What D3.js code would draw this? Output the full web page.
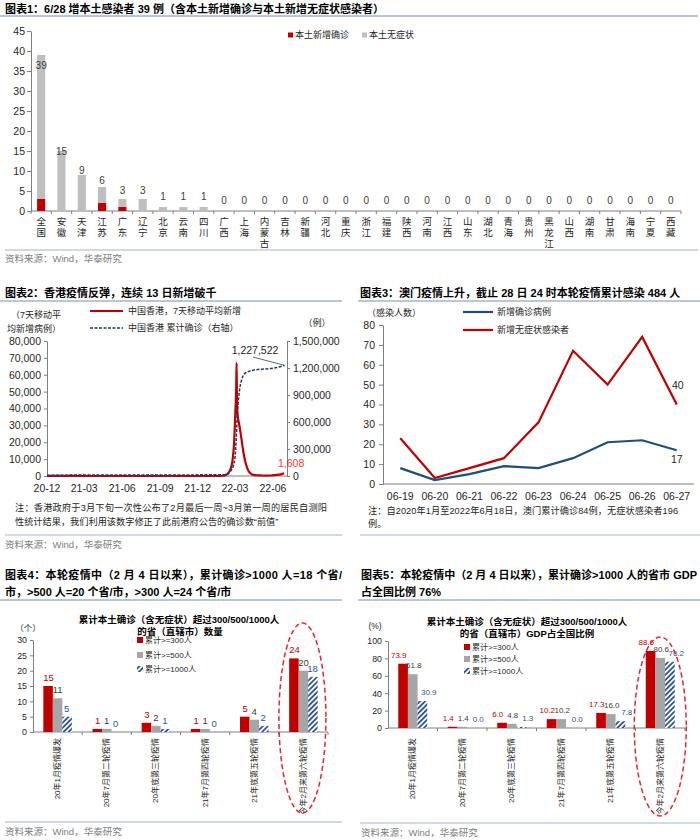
<!DOCTYPE html>
<html><head><meta charset="utf-8">
<script src="https://cdn.jsdelivr.net/npm/d3@7"></script>
<style>body{margin:0;background:#fff} svg{display:block}</style>
</head><body><svg id="c" width="700" height="840"></svg>
<script>
// ---------------- DATA ----------------
const provinces = ["全国","安徽","天津","江苏","广东","辽宁","北京","云南","四川","广西","上海","内蒙古","吉林","新疆","河北","重庆","浙江","福建","陕西","河南","江西","山东","湖北","青海","贵州","黑龙江","山西","湖南","甘肃","海南","宁夏","西藏"];
const confirmed    = [3,0,0,2,1,0,0,0,0,0,0,0,0,0,0,0,0,0,0,0,0,0,0,0,0,0,0,0,0,0,0,0];
const asymptomatic = [36,15,9,4,2,3,1,1,1,0,0,0,0,0,0,0,0,0,0,0,0,0,0,0,0,0,0,0,0,0,0,0];
const yTicks1 = [0,5,10,15,20,25,30,35,40,45];

const hkMADates = ["2020-12-01","2020-12-15","2021-01-01","2021-01-20","2021-02-15","2021-03-15","2021-05-01","2021-07-01","2021-09-01","2021-11-01","2021-12-31","2022-01-15","2022-01-31","2022-02-06","2022-02-12","2022-02-18","2022-02-23","2022-02-27","2022-03-02","2022-03-04","2022-03-05","2022-03-06","2022-03-08","2022-03-11","2022-03-15","2022-03-19","2022-03-23","2022-03-27","2022-03-31","2022-04-04","2022-04-09","2022-04-15","2022-04-25","2022-05-05","2022-05-15","2022-05-25","2022-06-05","2022-06-15","2022-06-22","2022-06-28"];
const hkMA = [90,100,70,60,25,12,3,2,2,1,5,20,150,500,1500,4000,9000,20000,38000,52000,67000,42000,35000,31000,25000,18000,12000,7500,4500,2500,1300,700,400,300,250,300,500,800,1100,1608];
const hkCumDates = ["2020-12-01","2021-03-01","2021-06-01","2021-12-31","2022-01-31","2022-02-10","2022-02-18","2022-02-24","2022-03-01","2022-03-04","2022-03-07","2022-03-12","2022-03-18","2022-03-25","2022-04-05","2022-04-20","2022-05-15","2022-06-10","2022-06-28"];
const hkCum = [6500,11000,11900,12700,14000,20000,50000,100000,200000,400000,700000,950000,1080000,1140000,1165000,1180000,1190000,1205000,1227522];
const hkLeftTicks = [0,10000,20000,30000,40000,50000,60000,70000,80000];
const hkRightTicks = [0,300000,600000,900000,1200000,1500000];
const hkXTickDates = ["2020-12-01","2021-03-01","2021-06-01","2021-09-01","2021-12-01","2022-03-01","2022-06-01"];
const hkXTickLabels = ["20-12","21-03","21-06","21-09","21-12","22-03","22-06"];

const mDays = ["06-19","06-20","06-21","06-22","06-23","06-24","06-25","06-26","06-27"];
const mConfirmed = [8,2,5,9,8,13,21,22,17];
const mAsym = [23,3,8,13,31,67,50,74,40];
const yTicks3 = [0,10,20,30,40,50,60,70,80];

const waves = ["20年1月疫情爆发","20年7月第二轮疫情","20年底第三轮疫情","21年7月第四轮疫情","21年底第五轮疫情","今年2月来第六轮疫情"];
const seriesNames = ["累计>=300人","累计>=500人","累计>=1000人"];
const cnt300 = [15,1,3,1,5,24];
const cnt500 = [11,1,2,1,4,20];
const cnt1000 = [5,0,1,0,2,18];
const yTicks4 = [0,5,10,15,20,25,30];
const gdp300 = [73.9,1.4,6.0,10.2,17.3,88.6];
const gdp500 = [61.8,1.4,4.8,10.2,16.0,80.6];
const gdp1000 = [30.9,0.0,1.3,0.0,7.8,76.2];
const yTicks5 = [0,20,40,60,80,100];

// ---------------- HELPERS ----------------
const FONT = '"Liberation Sans","Noto Sans CJK SC",sans-serif';
const RED = "#C00000", NAVY = "#1F4E79", GRAY1 = "#BFBFBF", GRAY2 = "#A6A6A6", HATCH = "#2F5597";
const RULE = "#A3B5C8";
const svg = d3.select("#c").attr("font-family", FONT);
svg.append("rect").attr("width",700).attr("height",840).attr("fill","#fff");

const defs = svg.append("defs");
const pat = defs.append("pattern").attr("id","hatch").attr("patternUnits","userSpaceOnUse")
  .attr("width",3.6).attr("height",3.6).attr("patternTransform","rotate(45)");
pat.append("rect").attr("width",3.6).attr("height",3.6).attr("fill","#fff");
pat.append("rect").attr("width",1.8).attr("height",3.6).attr("fill",HATCH);

function txt(x, y, s, o={}) {
  const t = svg.append("text").attr("x",x).attr("y",y).text(s)
    .attr("font-size", o.size||10).attr("fill", o.fill||"#262626")
    .attr("text-anchor", o.anchor||"start").attr("dominant-baseline","central");
  if (o.bold) t.attr("font-weight","bold");
  if (o.len) t.attr("textLength",o.len).attr("lengthAdjust","spacing");
  return t;
}
function hline(x1,x2,y,color=RULE,w=1.5){
  svg.append("line").attr("x1",x1).attr("x2",x2).attr("y1",y).attr("y2",y).attr("stroke",color).attr("stroke-width",w);
}
function styleAxis(g, size){
  g.attr("font-family",FONT).attr("font-size",size);
  g.selectAll("path.domain").attr("stroke","#7F7F7F");
  g.selectAll(".tick line").attr("stroke","#7F7F7F");
  g.selectAll(".tick text").attr("fill","#262626");
}
const src = "资料来源：Wind，华泰研究";

// ---------------- CHART 1 ----------------
txt(5, 9, "图表1：6/28 增本土感染者 39 例（含本土新增确诊与本土新增无症状感染者）", {size:11, bold:true, fill:"#000"});
hline(0, 698, 16);
const x1 = d3.scaleBand().domain(provinces).range([31,681]).paddingInner(0.6).paddingOuter(0.3);
const y1 = d3.scaleLinear().domain([0,45]).range([211,31]);
styleAxis(svg.append("g").attr("transform","translate(31,0)")
  .call(d3.axisLeft(y1).tickValues(yTicks1).tickSize(4).tickPadding(2).tickSizeOuter(0)), 10.5);
svg.append("line").attr("x1",31).attr("x2",681).attr("y1",y1(0)).attr("y2",y1(0)).attr("stroke","#7F7F7F");
const gap1 = (x1.step()-x1.bandwidth())/2;
provinces.forEach((p,i)=>{
  const bx = x1(p)-gap1;
  svg.append("line").attr("x1",bx).attr("x2",bx).attr("y1",y1(0)).attr("y2",y1(0)+3).attr("stroke","#7F7F7F");
});
svg.append("line").attr("x1",681).attr("x2",681).attr("y1",y1(0)).attr("y2",y1(0)+3).attr("stroke","#7F7F7F");
provinces.forEach((p,i)=>{
  const cx = x1(p)+x1.bandwidth()/2;
  const c = confirmed[i], a = asymptomatic[i], t = c+a;
  if (c>0) svg.append("rect").attr("x",x1(p)).attr("width",x1.bandwidth()).attr("y",y1(c)).attr("height",y1(0)-y1(c)).attr("fill",RED);
  if (a>0) svg.append("rect").attr("x",x1(p)).attr("width",x1.bandwidth()).attr("y",y1(t)).attr("height",y1(c)-y1(t)).attr("fill",GRAY1);
  const ly = t>=30 ? y1(t)+10 : y1(t) - Math.max(0, 11 - t*0.75);
  txt(cx, ly, String(t), {size:10, anchor:"middle", fill:"#404040"});
  [...p].forEach((ch,k)=> txt(cx, 221 + k*11, ch, {size:9.5, anchor:"middle", fill:"#262626"}));
});
svg.append("rect").attr("x",288).attr("y",32.5).attr("width",5).attr("height",5).attr("fill",RED);
txt(295, 35, "本土新增确诊", {size:9});
svg.append("rect").attr("x",362).attr("y",32.5).attr("width",5).attr("height",5).attr("fill",GRAY1);
txt(369, 35, "本土无症状", {size:9});
hline(5, 698, 250, RULE, 1);
txt(5, 258, src, {size:9.5, fill:"#808080"});

// ---------------- CHART 2 ----------------
txt(5, 293, "图表2：香港疫情反弹，连续 13 日新增破千", {size:11, bold:true, fill:"#000"});
hline(0, 342, 301);
const parse = d3.timeParse("%Y-%m-%d");
const x2 = d3.scaleTime().domain([parse("2020-12-01"), parse("2022-07-05")]).range([47,287]);
const y2L = d3.scaleLinear().domain([0,80000]).range([476,341]);
const y2R = d3.scaleLinear().domain([0,1500000]).range([476,341]);
styleAxis(svg.append("g").attr("transform","translate(47,0)")
  .call(d3.axisLeft(y2L).tickValues(hkLeftTicks).tickSize(3).tickPadding(3).tickSizeOuter(0).tickFormat(d3.format(","))), 10.5);
styleAxis(svg.append("g").attr("transform","translate(287,0)")
  .call(d3.axisRight(y2R).tickValues(hkRightTicks).tickSize(3).tickPadding(3).tickSizeOuter(0).tickFormat(d3.format(","))), 10.5);
svg.append("line").attr("x1",47).attr("x2",287).attr("y1",476).attr("y2",476).attr("stroke","#7F7F7F");
hkXTickDates.forEach((d,i)=> txt(x2(parse(d)), 488, hkXTickLabels[i], {size:10.5, anchor:"middle"}));
const cumPts = hkCumDates.map((d,i)=>[x2(parse(d)), y2R(hkCum[i])]);
const maPts = hkMADates.map((d,i)=>[x2(parse(d)), y2L(hkMA[i])]);
svg.append("path").attr("d", d3.line().curve(d3.curveMonotoneX)(maPts)).attr("fill","none").attr("stroke",RED).attr("stroke-width",2.2);
svg.append("path").attr("d", d3.line().curve(d3.curveMonotoneX)(cumPts)).attr("fill","none").attr("stroke","#1F3864").attr("stroke-width",1.5).attr("stroke-dasharray","3,1.5");
const lastCum = cumPts[cumPts.length-1];
txt(255, 350, d3.format(",")(hkCum[hkCum.length-1]), {size:10.5, anchor:"middle"});
svg.append("line").attr("x1",253).attr("y1",357).attr("x2",lastCum[0]+1).attr("y2",lastCum[1]).attr("stroke","#404040").attr("stroke-width",0.8);
txt(278, 463, d3.format(",")(hkMA[hkMA.length-1]), {size:10.5, fill:"#FF3333"});
svg.append("line").attr("x1",90).attr("x2",123).attr("y1",311).attr("y2",311).attr("stroke",RED).attr("stroke-width",2.2);
txt(128, 311, "中国香港，7天移动平均新增", {size:9});
svg.append("line").attr("x1",90).attr("x2",123).attr("y1",328).attr("y2",328).attr("stroke","#1F3864").attr("stroke-width",1.5).attr("stroke-dasharray","3,1.5");
txt(128, 328, "中国香港 累计确诊（右轴）", {size:9});
txt(36, 315, "（7天移动平", {size:9, anchor:"middle"});
txt(34, 329, "均新增病例）", {size:9, anchor:"middle"});
txt(317, 323, "（例）", {size:9, anchor:"middle"});
txt(15, 508, "注：香港政府于3月下旬一次性公布了2月最后一周~3月第一周的居民自测阳", {size:9.2, len:312});
txt(15, 522, "性统计结果，我们利用该数字修正了此前港府公告的确诊数“前值”", {size:9.2});
hline(5, 342, 535, RULE, 1);
txt(5, 544, src, {size:9.5, fill:"#808080"});

// ---------------- CHART 3 ----------------
txt(360, 293, "图表3：澳门疫情上升，截止 28 日 24 时本轮疫情累计感染 484 人", {size:11, bold:true, fill:"#000"});
hline(358, 700, 301);
const x3 = d3.scalePoint().domain(mDays).range([383,694]).padding(0.5);
const y3 = d3.scaleLinear().domain([0,80]).range([484,325]);
styleAxis(svg.append("g").attr("transform","translate(383,0)")
  .call(d3.axisLeft(y3).tickValues(yTicks3).tickSize(4).tickPadding(4).tickSizeOuter(0)), 10.5);
svg.append("line").attr("x1",383).attr("x2",694).attr("y1",484).attr("y2",484).attr("stroke","#7F7F7F");
mDays.forEach(d=> txt(x3(d), 496, d, {size:10.5, anchor:"middle"}));
const l3 = arr => d3.line()(mDays.map((d,i)=>[x3(d), y3(arr[i])]));
svg.append("path").attr("d", l3(mConfirmed)).attr("fill","none").attr("stroke",NAVY).attr("stroke-width",2.2);
svg.append("path").attr("d", l3(mAsym)).attr("fill","none").attr("stroke",RED).attr("stroke-width",2.2);
const lastD = mDays[mDays.length-1];
txt(x3(lastD)+1, y3(mAsym[mAsym.length-1])-20, String(mAsym[mAsym.length-1]), {size:10.5, anchor:"middle"});
txt(x3(lastD), y3(mConfirmed[mConfirmed.length-1])+9, String(mConfirmed[mConfirmed.length-1]), {size:10.5, anchor:"middle"});
svg.append("line").attr("x1",463).attr("x2",493).attr("y1",312).attr("y2",312).attr("stroke",NAVY).attr("stroke-width",2.2);
txt(497, 312, "新增确诊病例", {size:9});
svg.append("line").attr("x1",463).attr("x2",493).attr("y1",330).attr("y2",330).attr("stroke",RED).attr("stroke-width",2.2);
txt(497, 330, "新增无症状感染者", {size:9});
txt(367, 313, "（感染人数）", {size:9});
txt(368, 511, "注：自2020年1月至2022年6月18日，澳门累计确诊84例，无症状感染者196", {size:9.2, len:310});
txt(368, 524, "例。", {size:9.2});
hline(360, 700, 535, RULE, 1);

// ---------------- GROUPED BAR HELPER ----------------
function grouped(cfg){
  const x = d3.scaleBand().domain(waves).range([cfg.x0,cfg.x1]);
  const y = d3.scaleLinear().domain(cfg.ydom).range([cfg.y0,cfg.yTop]);
  const sub = d3.scaleBand().domain([0,1,2]).range([0, cfg.gw]);
  styleAxis(svg.append("g").attr("transform",`translate(${cfg.x0},0)`)
    .call(d3.axisLeft(y).tickValues(cfg.ticks).tickSize(3).tickPadding(3).tickSizeOuter(0)), 8.8);
  svg.append("line").attr("x1",cfg.x0).attr("x2",cfg.x1).attr("y1",cfg.y0).attr("y2",cfg.y0).attr("stroke","#7F7F7F");
  waves.forEach(w=>{
    svg.append("line").attr("x1",x(w)+x.bandwidth()).attr("x2",x(w)+x.bandwidth()).attr("y1",cfg.y0).attr("y2",cfg.y0+3).attr("stroke","#7F7F7F");
  });
  const fills = [RED, GRAY2, "url(#hatch)"];
  const lcol = ["#C00000","#404040",HATCH];
  waves.forEach((w,i)=>{
    const gx = x(w) + (x.bandwidth()-cfg.gw)/2;
    cfg.series.forEach((s,k)=>{
      const v = s[i];
      const bx = gx + sub(k);
      if (v>0) svg.append("rect").attr("x",bx).attr("width",sub.bandwidth()).attr("y",y(v)).attr("height",cfg.y0-y(v)).attr("fill",fills[k]);
      txt(x(w)+x.bandwidth()/2 + cfg.lab[k], y(v)-8.5, cfg.fmt(v), {size:cfg.lsize, anchor:"middle", fill:lcol[k]});
    });
    svg.append("text").attr("transform",`translate(${x(w)+x.bandwidth()/2},${cfg.y0+cfg.xl}) rotate(-90)`)
      .attr("text-anchor","end").attr("dominant-baseline","central").attr("font-size",8).attr("fill","#262626").text(w);
  });
  cfg.leg.forEach((ly,k)=>{
    svg.append("rect").attr("x",cfg.legX).attr("y",ly-3).attr("width",6).attr("height",6).attr("fill",fills[k]);
    txt(cfg.legX+8, ly, seriesNames[k], {size:8});
  });
  const last = waves[waves.length-1];
  const cx = x(last)+x.bandwidth()/2 + cfg.ex;
  svg.append("ellipse").attr("cx",cx).attr("cy",cfg.ecy).attr("rx",cfg.erx).attr("ry",cfg.ery)
    .attr("fill","none").attr("stroke","#E8262A").attr("stroke-width",1.5).attr("stroke-dasharray","5,3");
}

// ---------------- CHART 4 ----------------
txt(5, 575, "图表4：本轮疫情中（2 月 4 日以来），累计确诊>1000 人=18 个省/", {size:11, bold:true, fill:"#000", len:337});
txt(5, 592, "市，>500 人=20 个省/市，>300 人=24 个省/市", {size:11, bold:true, fill:"#000"});
hline(0, 342, 600);
txt(179, 619, "累计本土确诊（含无症状）超过300/500/1000人", {size:9.5, bold:true, anchor:"middle", fill:"#000"});
txt(180, 631, "的省（直辖市）数量", {size:9.5, bold:true, anchor:"middle", fill:"#000"});
txt(28, 628, "（个）", {size:8.5, anchor:"middle"});
grouped({x0:33, x1:328, y0:732, yTop:640, ydom:[0,30], ticks:yTicks4, gw:28.5,
  series:[cnt300,cnt500,cnt1000], fmt:d=>String(d), lab:[-9,0,9], lsize:9.5, xl:6,
  leg:[640,655,669], legX:137, ex:-1, ecy:718, erx:23.5, ery:95});
hline(5, 342, 822, RULE, 1);
txt(5, 831, src, {size:9.5, fill:"#808080"});

// ---------------- CHART 5 ----------------
txt(361, 575, "图表5：本轮疫情中（2 月 4 日以来），累计确诊>1000 人的省市 GDP", {size:11, bold:true, fill:"#000", len:336});
txt(361, 592, "占全国比例 76%", {size:11, bold:true, fill:"#000"});
hline(358, 700, 600);
txt(527, 621, "累计本土确诊（含无症状）超过300/500/1000人", {size:9.5, bold:true, anchor:"middle", fill:"#000"});
txt(527, 633, "的省（直辖市）GDP占全国比例", {size:9.5, bold:true, anchor:"middle", fill:"#000"});
txt(375, 626, "(%)", {size:8.5, anchor:"middle"});
grouped({x0:388, x1:685, y0:728, yTop:641, ydom:[0,100], ticks:yTicks5, gw:29,
  series:[gdp300,gdp500,gdp1000], fmt:d3.format(".1f"), lab:[-14,1,16], lsize:8, xl:10,
  leg:[647,659,671], legX:464, ex:0, ecy:726.5, erx:26, ery:89.5});
hline(360, 700, 823, RULE, 1);
txt(361, 832, src, {size:9.5, fill:"#808080"});
</script></body></html>
